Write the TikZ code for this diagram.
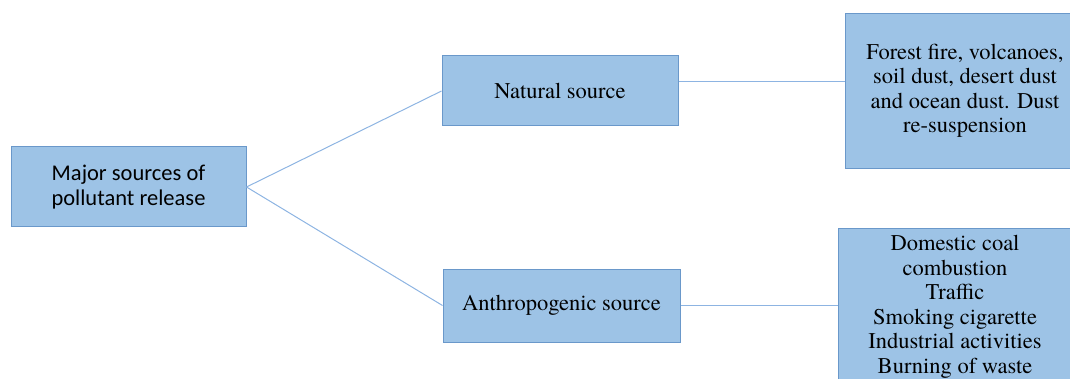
\documentclass[tikz,border=0pt]{standalone}
\usepackage{fontspec}
\newfontfamily\timesfont{texgyretermes-regular.otf}
\newfontfamily\calibrifont{Carlito}
\definecolor{boxfill}{HTML}{9DC3E6}
\definecolor{boxline}{HTML}{6A98CA}
\definecolor{linkline}{HTML}{8DB4E2}
\begin{document}
\begin{tikzpicture}[x=1pt, y=-1pt,
		box/.style={draw=boxline, fill=boxfill, line width=1pt, inner sep=0pt, align=center, font=\timesfont\fontsize{22.5}{24.5}\selectfont},
		link/.style={draw=linkline, line width=1pt}]
		\useasboundingbox (0,0) rectangle (1070,379);

		\node[box, minimum width=235pt, minimum height=80pt, font=\calibrifont\fontsize{22.5}{25}\selectfont] (major) at (128.5,187) {Major sources of\\pollutant release};
		\node[box, minimum width=236pt, minimum height=70pt] (natural) at (560,91) {Natural source};
		\node[box, minimum width=237pt, minimum height=73pt] (anthro) at (561.5,305.5) {Anthropogenic source};

		\node[box, minimum width=240pt, minimum height=155pt] (nattext) at (965,91) {Forest fire, volcanoes,\\soil dust, desert dust\\and ocean dust. Dust\\re-suspension};
		\node[box, minimum width=234pt, minimum height=156pt] (anthtext) at (955,307) {Domestic coal\\combustion\\Traffic\\Smoking cigarette\\Industrial activities\\Burning of waste};

		\draw[link] (major.east) -- (natural.west);
		\draw[link] (major.east) -- (anthro.west);
		\draw[link] ([yshift=9pt]natural.east) -- ([yshift=9pt]natural.east -| nattext.west);
		\draw[link] (anthro.east) -- (anthro.east -| anthtext.west);

	\end{tikzpicture}
\end{document}
